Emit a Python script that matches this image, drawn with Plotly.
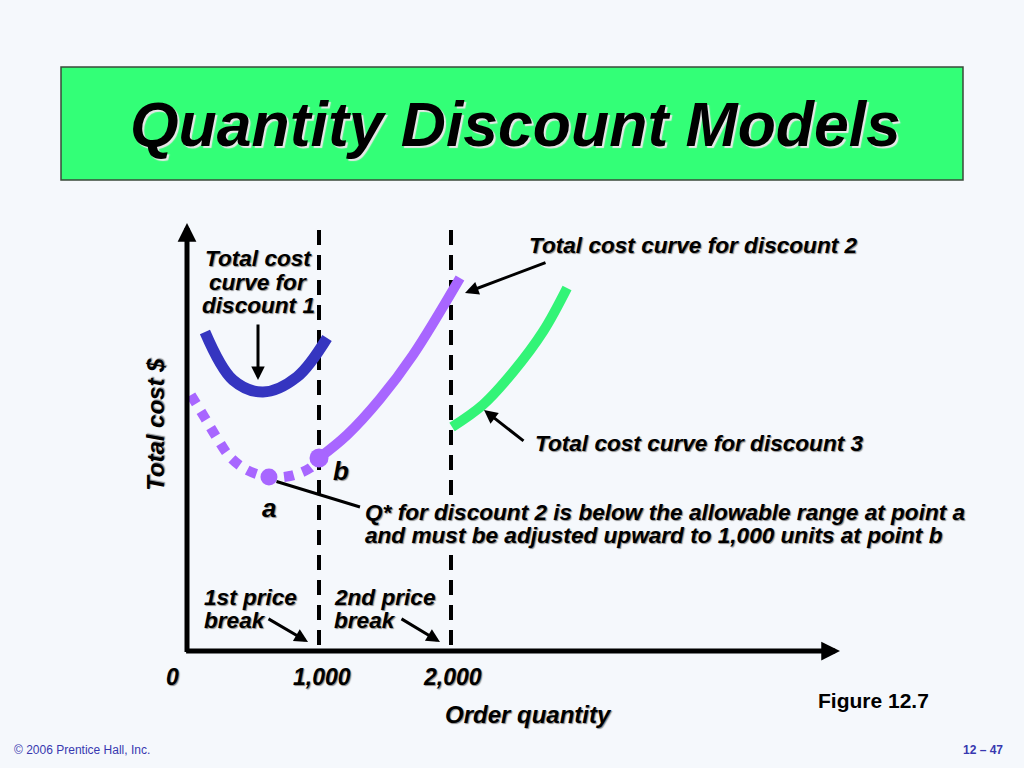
import plotly.graph_objects as go

# ---------------- data (order quantity, total cost) ----------------
d1_qty = [136, 348, 576, 833, 1061]
d1_cost = [3190, 2710, 2590, 2740, 3130]

d2_low_qty = [30, 136, 227, 326, 455, 621, 780, 932, 1000]
d2_low_cost = [2560, 2330, 2130, 1940, 1810, 1740, 1750, 1830, 1930]

d2_qty = [1000, 1212, 1462, 1712, 2068]
d2_cost = [1930, 2160, 2520, 2960, 3730]

d3_qty = [2008, 2240, 2470, 2700, 2879]
d3_cost = [2240, 2460, 2790, 3200, 3630]

point_a = (621, 1740)
point_b = (1000, 1930)

price_breaks = [1000, 2000]
break_cost_range = [60, 4250]

tick_vals = [0, 1000, 2000]
tick_text = ["0", "1,000", "2,000"]

axis_x_max = 4947
axis_y_max = 4280

# ---------------- styles ----------------
BG = "#F5F8FC"
BLUE = "#3535C0"
PURPLE = "#A866FF"
GREEN = "#33F477"
TITLE_FILL = "#33FF77"
FONT = "Liberation Sans"
SHADOW = "1px 1px 1px #8a8a8a"
LBL = 22.6

W, H = 1024, 768


def px(x):
    return x / W


def py(y):
    return 1 - y / H


fig = go.Figure()

# price-break dashed lines
for q in price_breaks:
    fig.add_trace(go.Scatter(x=[q, q], y=break_cost_range, mode="lines",
                             line=dict(color="black", width=4, dash="15px,10px"),
                             hoverinfo="skip", showlegend=False))

fig.add_trace(go.Scatter(x=d1_qty, y=d1_cost, mode="lines", line_shape="spline",
                         line=dict(color=BLUE, width=11), showlegend=False))
fig.add_trace(go.Scatter(x=d2_low_qty, y=d2_low_cost, mode="lines", line_shape="spline",
                         line=dict(color=PURPLE, width=10, dash="10px,9px"), showlegend=False))
fig.add_trace(go.Scatter(x=d2_qty, y=d2_cost, mode="lines", line_shape="spline",
                         line=dict(color=PURPLE, width=10), showlegend=False))
fig.add_trace(go.Scatter(x=d3_qty, y=d3_cost, mode="lines", line_shape="spline",
                         line=dict(color=GREEN, width=10), showlegend=False))
fig.add_trace(go.Scatter(x=[point_a[0]], y=[point_a[1]], mode="markers",
                         marker=dict(color=PURPLE, size=17), showlegend=False))
fig.add_trace(go.Scatter(x=[point_b[0]], y=[point_b[1]], mode="markers",
                         marker=dict(color=PURPLE, size=19), showlegend=False))

ann = []

# axes with arrowheads
ann.append(dict(x=axis_x_max, y=0, ax=-18, ay=0, xref="x", yref="y", axref="x", ayref="y",
                text="", showarrow=True, arrowhead=2, arrowwidth=5, arrowsize=0.75,
                arrowcolor="black", standoff=0))
ann.append(dict(x=0, y=axis_y_max, ax=0, ay=-25, xref="x", yref="y", axref="x", ayref="y",
                text="", showarrow=True, arrowhead=2, arrowwidth=5, arrowsize=0.75,
                arrowcolor="black", standoff=0))


def label(text, x, y, size=LBL, xanchor="center", italic=True, bold=True,
          color="black", shadow=SHADOW, angle=0, bg=None):
    a = dict(x=px(x), y=py(y), xref="paper", yref="paper", text=text,
             showarrow=False, xanchor=xanchor, yanchor="middle", textangle=angle,
             font=dict(family=FONT, size=size, color=color,
                       style="italic" if italic else "normal",
                       weight="bold" if bold else "normal",
                       shadow=shadow))
    if bg:
        a["bgcolor"] = bg
        a["borderpad"] = 0
    ann.append(a)


def pointer(x0, y0, x1, y1, head=2, width=3, size=0.9):
    ann.append(dict(x=px(x1), y=py(y1), ax=px(x0), ay=py(y0),
                    xref="x domain", yref="y domain", axref="x domain", ayref="y domain",
                    text="", showarrow=True, arrowhead=head, arrowwidth=width,
                    arrowsize=size, arrowcolor="black", standoff=0))


# title
label("Quantity Discount Models", 515, 124, size=62.5, shadow="2px 2px 1px #e8e8e8")

# discount 1 label
label("Total cost", 258, 259)
label("curve for", 258, 282)
label("discount 1", 258, 305)
pointer(258, 323, 258, 380)

# discount 2 label
label("Total cost curve for discount 2", 693, 245)
pointer(547, 262, 465, 293)

# discount 3 label
label("Total cost curve for discount 3", 699, 443)
pointer(525, 442, 484, 410)

# points a / b
label("b", 341, 471, size=26)
label("a", 269, 508, size=26)
pointer(275, 481, 360, 507, head=0, width=3)
label("and must be adjusted upward to 1,000 units at point b", 364, 535,
      xanchor="left", bg=BG)
label("Q* for discount 2 is below the allowable range at point a", 364, 512,
      xanchor="left", bg=BG)

# price break labels
label("1st price", 202, 597, xanchor="left")
label("break", 202, 620, xanchor="left")
pointer(267, 618, 308, 642)
label("2nd price", 332, 597, xanchor="left")
label("break", 332, 620, xanchor="left")
pointer(400, 618, 440, 642)

# tick labels (data positions)
tick_shift = [-15, 3, 1]
for v, t, s in zip(tick_vals, tick_text, tick_shift):
    ann.append(dict(x=v, y=0, xref="x", yref="y", text=t, showarrow=False,
                    xanchor="center", yanchor="middle", xshift=s, yshift=-26,
                    font=dict(family=FONT, size=23, color="black", style="italic",
                              weight="bold", shadow=SHADOW)))

# axis titles
label("Order quantity", 528, 714, size=24)
label("Total cost $", 155, 425, size=24, angle=-90)

label("Figure 12.7", 873, 700, size=21, italic=False, shadow="none")

# footer
label("© 2006 Prentice Hall, Inc.", 12, 750, size=12, xanchor="left", italic=False,
      bold=False, color="#3838B0", shadow="none")
label("12 – 47", 1005, 750, size=12, xanchor="right", italic=False,
      bold=True, color="#3838B0", shadow="none")

fig.update_layout(
    width=W, height=H,
    margin=dict(l=0, r=0, t=0, b=0),
    paper_bgcolor=BG, plot_bgcolor=BG,
    xaxis=dict(range=[-187 / 0.132, (W - 187) / 0.132], visible=False, fixedrange=True),
    yaxis=dict(range=[(651 - H) * 10, 651 * 10], visible=False, fixedrange=True),
    showlegend=False,
    annotations=ann,
    shapes=[dict(type="rect", xref="paper", yref="paper",
                 x0=px(61), x1=px(963), y0=py(180), y1=py(67),
                 fillcolor=TITLE_FILL, line=dict(color="#3a4a3a", width=1.5),
                 layer="below")],
)

fig.write_html(
    "out.html",
    config={"displayModeBar": False},
    post_script="document.body.style.margin='0';document.body.style.overflow='hidden';"
                "document.body.style.background='" + BG + "';",
)
